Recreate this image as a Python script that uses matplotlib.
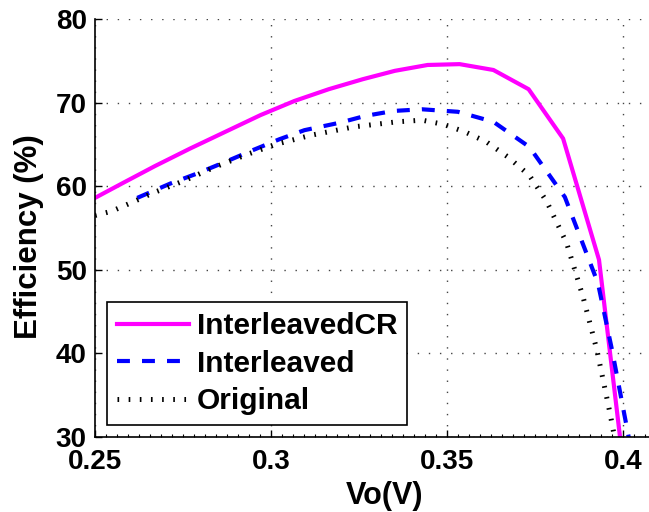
import numpy as np
import matplotlib
matplotlib.use('Agg')
import matplotlib.pyplot as plt
from matplotlib.ticker import FixedLocator, MultipleLocator

plt.rcParams['font.family'] = ['Liberation Sans', 'DejaVu Sans']
plt.rcParams['font.weight'] = 'bold'

## data
vo_cr = [0.25, 0.258, 0.267, 0.277, 0.287, 0.297, 0.3067, 0.3164, 0.3261, 0.3352,
         0.3445, 0.3536, 0.3632, 0.3732, 0.383, 0.3932, 0.4003]
eff_cr = [58.6, 60.4, 62.4, 64.5, 66.5, 68.5, 70.2, 71.6, 72.8, 73.8,
          74.5, 74.6, 73.9, 71.6, 65.7, 51.2, 26.0]

vo_il = [0.262, 0.2713, 0.2789, 0.287, 0.2942, 0.3023, 0.3095, 0.3196, 0.3267, 0.3348,
         0.3429, 0.3531, 0.3632, 0.3734, 0.3835, 0.3929, 0.3969, 0.4014, 0.403]
eff_il = [58.6, 60.3, 61.5, 62.9, 64.2, 65.6, 66.7, 67.6, 68.4, 69.0,
          69.2, 68.9, 67.7, 64.7, 58.7, 48.4, 40.4, 30.5, 27.0]

vo_org = [0.25, 0.2547, 0.2607, 0.2665, 0.275, 0.2841, 0.2932, 0.3013, 0.3114, 0.3236,
          0.3358, 0.3429, 0.349, 0.3551, 0.3612, 0.3673, 0.3734, 0.3783, 0.384, 0.3887,
          0.3926, 0.3963, 0.3985]
eff_org = [56.5, 57.0, 58.1, 59.2, 60.6, 62.3, 63.8, 65.0, 66.1, 67.1,
           67.7, 67.9, 67.4, 66.5, 65.3, 63.5, 61.3, 58.2, 53.2, 46.7,
           40.4, 32.9, 28.0]

labels = ['InterleavedCR', 'Interleaved', 'Original']
xticks = [0.25, 0.3, 0.35, 0.4]
xticklabels = ['0.25', '0.3', '0.35', '0.4']
yticks = [30, 40, 50, 60, 70, 80]

fig = plt.figure(figsize=(6.49, 5.12), dpi=100)
# axes runs a bit past the right edge of the figure (cropped like the original)
ax = fig.add_axes([0.1464, 0.1465, 0.8937, 0.8164])

ax.plot(vo_cr, eff_cr, color='#ff00ff', lw=3, label=labels[0])
ax.plot(vo_il, eff_il, color='#0000ff', lw=3, linestyle=(0, (3.1, 2.9)), label=labels[1])
ax.plot(vo_org, eff_org, color='black', lw=3.6, linestyle=(0, (0.33, 1.9)), label=labels[2])

ax.set_xlim(0.25, 0.4148)
ax.set_ylim(30, 80)
ax.xaxis.set_major_locator(FixedLocator(xticks))
ax.set_xticklabels(xticklabels)
ax.set_yticks(yticks)
ax.xaxis.set_minor_locator(MultipleLocator(0.05 / 16))

ax.grid(True, which='major', color='#444444', linestyle=(0, (1, 7)), linewidth=1)
for s in ['top', 'right']:
    ax.spines[s].set_visible(False)
for s in ['left', 'bottom']:
    ax.spines[s].set_linewidth(1.2)

ax.tick_params(axis='both', which='major', direction='in', length=5, width=1,
               labelsize=20)
ax.tick_params(axis='x', which='major', pad=9)
ax.tick_params(axis='y', which='major', pad=6)
ax.tick_params(axis='x', which='minor', direction='in', length=2.5, width=0.8)
for lab in ax.get_xticklabels() + ax.get_yticklabels():
    lab.set_fontweight('bold')

ax.set_xlabel('Vo(V)', fontsize=22, fontweight='bold')
ax.xaxis.set_label_coords(0.5, -0.105)
ax.set_ylabel('Efficiency (%)', fontsize=22.5, fontweight='bold')
ax.yaxis.set_label_coords(-0.088, 0.48)

leg = ax.legend(loc='lower left', bbox_to_anchor=(0.0207, 0.0287),
                prop={'size': 21.5, 'weight': 'bold'},
                handlelength=2.4, handletextpad=0.27, labelspacing=0.32,
                borderpad=0.33, borderaxespad=0, fancybox=False,
                edgecolor='black', framealpha=1)
leg.get_frame().set_linewidth(1.2)

plt.savefig('out.png', dpi=100)
